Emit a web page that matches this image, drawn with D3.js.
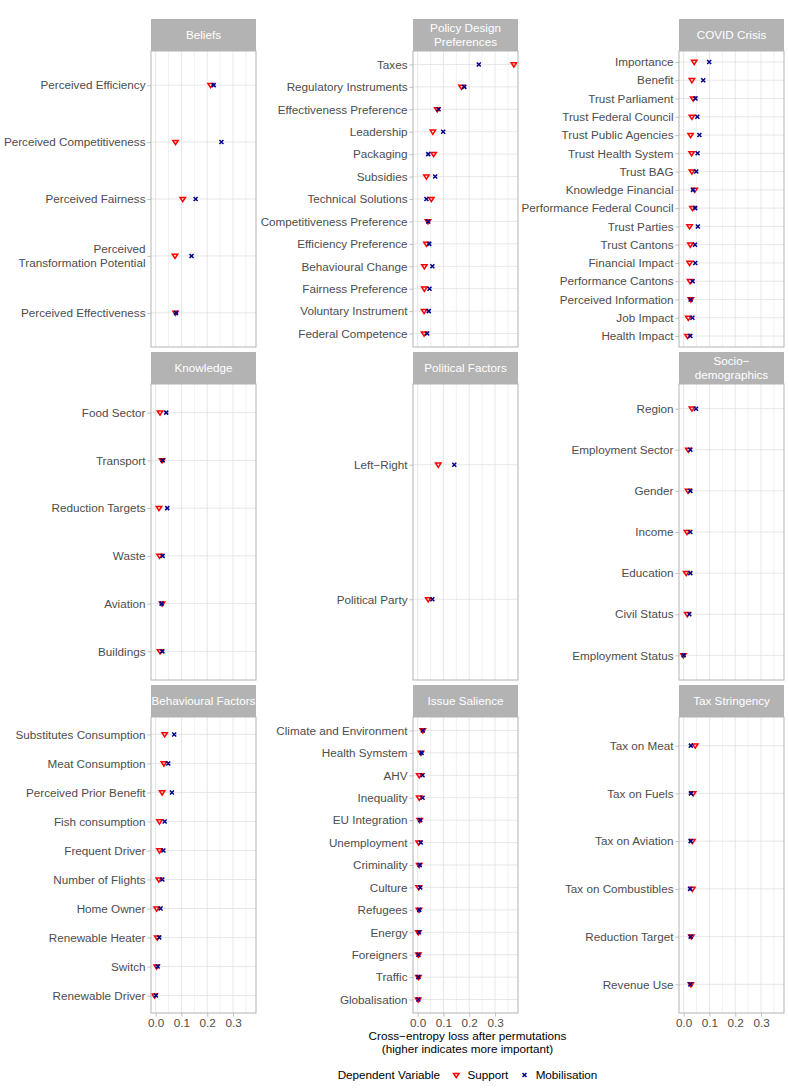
<!DOCTYPE html>
<html><head><meta charset="utf-8">
<script src="https://cdn.jsdelivr.net/npm/d3@7"></script>
<style>
body{margin:0;background:#fff;}
svg text{font-family:"Liberation Sans",Arial,Helvetica,sans-serif;}
</style>
</head><body>
<svg id="chart" width="789" height="1092"></svg>
<script>
// ---------------- DATA ----------------
const panelTitles = ["Beliefs", "Policy Design\nPreferences", "COVID Crisis",
  "Knowledge", "Political Factors", "Socio\u2212\ndemographics",
  "Behavioural Factors", "Issue Salience", "Tax Stringency"];
const seriesNames = ["Support", "Mobilisation"];
const legendTitle = "Dependent Variable";
const xTicks = [0, 0.1, 0.2, 0.3];
const xTitle = ["Cross\u2212entropy loss after permutations", "(higher indicates more important)"];

const beliefsVars = ["Perceived Efficiency", "Perceived Competitiveness", "Perceived Fairness", "Perceived\nTransformation Potential", "Perceived Effectiveness"];
const beliefsSupport = [0.213, 0.077, 0.105, 0.075, 0.077];
const beliefsMobilisation = [0.225, 0.255, 0.155, 0.139, 0.079];

const policyVars = ["Taxes", "Regulatory Instruments", "Effectiveness Preference", "Leadership", "Packaging", "Subsidies", "Technical Solutions", "Competitiveness Preference", "Efficiency Preference", "Behavioural Change", "Fairness Preference", "Voluntary Instrument", "Federal Competence"];
const policySupport = [0.373, 0.170, 0.076, 0.059, 0.062, 0.034, 0.053, 0.040, 0.034, 0.026, 0.026, 0.025, 0.025];
const policyMobilisation = [0.237, 0.181, 0.081, 0.099, 0.041, 0.068, 0.034, 0.041, 0.045, 0.057, 0.046, 0.043, 0.037];

const covidVars = ["Importance", "Benefit", "Trust Parliament", "Trust Federal Council", "Trust Public Agencies", "Trust Health System", "Trust BAG", "Knowledge Financial", "Performance Federal Council", "Trust Parties", "Trust Cantons", "Financial Impact", "Performance Cantons", "Perceived Information", "Job Impact", "Health Impact"];
const covidSupport = [0.041, 0.032, 0.037, 0.032, 0.027, 0.031, 0.032, 0.043, 0.034, 0.023, 0.026, 0.023, 0.025, 0.028, 0.018, 0.015];
const covidMobilisation = [0.099, 0.076, 0.046, 0.053, 0.061, 0.054, 0.049, 0.036, 0.045, 0.055, 0.044, 0.045, 0.035, 0.027, 0.034, 0.026];

const knowledgeVars = ["Food Sector", "Transport", "Reduction Targets", "Waste", "Aviation", "Buildings"];
const knowledgeSupport = [0.017, 0.025, 0.013, 0.015, 0.025, 0.017];
const knowledgeMobilisation = [0.041, 0.027, 0.045, 0.027, 0.023, 0.026];

const politicalVars = ["Left\u2212Right", "Political Party"];
const politicalSupport = [0.080, 0.041];
const politicalMobilisation = [0.142, 0.057];

const socioVars = ["Region", "Employment Sector", "Gender", "Income", "Education", "Civil Status", "Employment Status"];
const socioSupport = [0.032, 0.018, 0.017, 0.013, 0.010, 0.014, -0.001];
const socioMobilisation = [0.048, 0.026, 0.026, 0.026, 0.026, 0.022, 0.000];

const behaviourVars = ["Substitutes Consumption", "Meat Consumption", "Perceived Prior Benefit", "Fish consumption", "Frequent Driver", "Number of Flights", "Home Owner", "Renewable Heater", "Switch", "Renewable Driver"];
const behaviourSupport = [0.035, 0.032, 0.025, 0.015, 0.015, 0.012, 0.004, 0.006, 0.004, -0.004];
const behaviourMobilisation = [0.072, 0.049, 0.063, 0.035, 0.030, 0.026, 0.019, 0.014, 0.008, 0.001];

const salienceVars = ["Climate and Environment", "Health Symstem", "AHV", "Inequality", "EU Integration", "Unemployment", "Criminality", "Culture", "Refugees", "Energy", "Foreigners", "Traffic", "Globalisation"];
const salienceSupport = [0.020, 0.013, 0.006, 0.006, 0.008, 0.004, 0.006, 0.004, 0.005, 0.003, 0.003, 0.003, 0.002];
const salienceMobilisation = [0.020, 0.015, 0.019, 0.019, 0.010, 0.012, 0.008, 0.010, 0.006, 0.005, 0.003, 0.003, 0.003];

const taxVars = ["Tax on Meat", "Tax on Fuels", "Tax on Aviation", "Tax on Combustibles", "Reduction Target", "Revenue Use"];
const taxSupport = [0.045, 0.037, 0.034, 0.034, 0.030, 0.028];
const taxMobilisation = [0.028, 0.028, 0.027, 0.025, 0.027, 0.026];

// ---------------- LAYOUT / STYLE ----------------
const panelVars = [beliefsVars, policyVars, covidVars, knowledgeVars, politicalVars, socioVars, behaviourVars, salienceVars, taxVars];
const panelSupport = [beliefsSupport, policySupport, covidSupport, knowledgeSupport, politicalSupport, socioSupport, behaviourSupport, salienceSupport, taxSupport];
const panelMob = [beliefsMobilisation, policyMobilisation, covidMobilisation, knowledgeMobilisation, politicalMobilisation, socioMobilisation, behaviourMobilisation, salienceMobilisation, taxMobilisation];

const colLefts = [151, 413, 679];
const rowTops = [19, 352, 685];
const panelW = 105, stripH = 32, panelH = 296;
const FS = 11.7;
const grey70 = "#B3B3B3", gridMajor = "#DEDEDE", gridMinor = "#EBEBEB";
const colSupport = "#FF0000", colMob = "#00008B";

const svg = d3.select("#chart");
const x = d3.scaleLinear().domain([-0.018, 0.389]).range([0, panelW]);
const minorTicks = [0.05, 0.15, 0.25, 0.35];

const triPath = (s) => `M${-s},${-s*0.6}L${s},${-s*0.6}L0,${s*0.95}Z`;
const crossPath = (s) => `M${-s},${-s}L${s},${s}M${-s},${s}L${s},${-s}`;

panelTitles.forEach((title, i) => {
  const col = i % 3, row = Math.floor(i / 3);
  const left = colLefts[col], top = rowTops[row];
  const vars = panelVars[i];
  const y = d3.scalePoint().domain(vars).range([0, panelH]).padding(0.6);

  // strip
  const sg = svg.append("g").attr("transform", `translate(${left},${top})`);
  const clipId = "clip" + i;
  sg.append("clipPath").attr("id", clipId).append("rect").attr("width", panelW).attr("height", stripH);
  sg.append("rect").attr("width", panelW).attr("height", stripH).attr("fill", grey70);
  const lines = title.split("\n");
  const st = sg.append("text").attr("clip-path", `url(#${clipId})`)
    .attr("text-anchor", "middle").attr("fill", "#FFFFFF").style("font-size", FS + "px");
  lines.forEach((ln, k) => {
    st.append("tspan").attr("x", panelW / 2)
      .attr("y", stripH / 2 + (k - (lines.length - 1) / 2) * 13.2)
      .attr("dy", "0.35em").text(ln);
  });

  // panel
  const pg = svg.append("g").attr("transform", `translate(${left},${top + stripH})`);
  pg.append("rect").attr("width", panelW).attr("height", panelH).attr("fill", "#fff");
  pg.selectAll(".vminor").data(minorTicks).join("line")
    .attr("x1", d => x(d)).attr("x2", d => x(d)).attr("y1", 0).attr("y2", panelH)
    .attr("stroke", gridMinor).attr("stroke-width", 0.7);
  pg.selectAll(".vmajor").data(xTicks).join("line")
    .attr("x1", d => x(d)).attr("x2", d => x(d)).attr("y1", 0).attr("y2", panelH)
    .attr("stroke", gridMajor).attr("stroke-width", 0.9).attr("stroke-opacity", 0.8);
  pg.selectAll(".hmajor").data(vars).join("line")
    .attr("x1", 0).attr("x2", panelW).attr("y1", d => y(d)).attr("y2", d => y(d))
    .attr("stroke", gridMajor).attr("stroke-width", 0.9).attr("stroke-opacity", 0.8);

  // points
  const supp = panelSupport[i], mob = panelMob[i];
  pg.selectAll(".sup").data(vars).join("path")
    .attr("transform", (d, k) => `translate(${x(supp[k])},${y(d)})`)
    .attr("d", triPath(2.7)).attr("fill", "none").attr("stroke", colSupport).attr("stroke-width", 1.5);
  pg.selectAll(".mob").data(vars).join("path")
    .attr("transform", (d, k) => `translate(${x(mob[k])},${y(d)})`)
    .attr("d", crossPath(2)).attr("fill", "none").attr("stroke", colMob).attr("stroke-width", 1.5);

  pg.append("rect").attr("width", panelW).attr("height", panelH)
    .attr("fill", "none").attr("stroke", grey70).attr("stroke-width", 1);

  // y axis
  const ya = pg.append("g").call(d3.axisLeft(y).tickSize(3.7).tickPadding(1.8));
  ya.select(".domain").remove();
  ya.selectAll(".tick line").attr("stroke", grey70).attr("stroke-width", 0.8);
  ya.selectAll(".tick text").attr("fill", "#4D4D4D").style("font-size", FS + "px")
    .attr("font-family", null)
    .each(function(d) {
      const parts = d.split("\n");
      if (parts.length > 1) {
        const t = d3.select(this);
        const xx = t.attr("x");
        t.text(null).attr("dy", null);
        parts.forEach((p, k) => {
          t.append("tspan").attr("x", xx)
            .attr("y", (k - (parts.length - 1) / 2) * 13.4)
            .attr("dy", "0.32em").text(p);
        });
      }
    });

  // x axis only bottom row
  if (row === 2) {
    const xa = pg.append("g").attr("transform", `translate(0,${panelH})`)
      .call(d3.axisBottom(x).tickValues(xTicks).tickFormat(d3.format(".1f")).tickSize(3.7).tickPadding(1.8));
    xa.select(".domain").remove();
    xa.selectAll(".tick line").attr("stroke", grey70).attr("stroke-width", 0.8);
    xa.selectAll(".tick text").attr("fill", "#4D4D4D").style("font-size", FS + "px").attr("font-family", null);
  }
});

// x title
const cx = (colLefts[0] + colLefts[2] + panelW) / 2;
xTitle.forEach((t, k) => {
  svg.append("text").attr("x", cx).attr("y", 1040 + k * 13.4)
    .attr("text-anchor", "middle").attr("fill", "#000").style("font-size", FS + "px").text(t);
});

// legend
const lg = svg.append("g");
const ly = 1075;
const measure = (s) => {
  const t = svg.append("text").style("font-size", FS + "px").text(s);
  const w = t.node().getComputedTextLength(); t.remove(); return w;
};
const wTitle = measure(legendTitle);
const wS = measure(seriesNames[0]), wM = measure(seriesNames[1]);
const keyW = 17.3, gap1 = 7.5, gapLab = 2.5, gapItem = 7.5;
const total = wTitle + gap1 + keyW + gapLab + wS + gapItem + keyW + gapLab + wM;
let cur = cx - total / 2;
lg.append("text").attr("x", cur).attr("y", ly).attr("dy", "0.35em").style("font-size", FS + "px").attr("fill", "#000").text(legendTitle);
cur += wTitle + gap1;
lg.append("path").attr("transform", `translate(${cur + keyW/2},${ly})`).attr("d", triPath(2.7))
  .attr("fill", "none").attr("stroke", colSupport).attr("stroke-width", 1.5);
cur += keyW + gapLab;
lg.append("text").attr("x", cur).attr("y", ly).attr("dy", "0.35em").style("font-size", FS + "px").attr("fill", "#000").text(seriesNames[0]);
cur += wS + gapItem;
lg.append("path").attr("transform", `translate(${cur + keyW/2},${ly})`).attr("d", crossPath(2))
  .attr("fill", "none").attr("stroke", colMob).attr("stroke-width", 1.5);
cur += keyW + gapLab;
lg.append("text").attr("x", cur).attr("y", ly).attr("dy", "0.35em").style("font-size", FS + "px").attr("fill", "#000").text(seriesNames[1]);
</script>
</body></html>
